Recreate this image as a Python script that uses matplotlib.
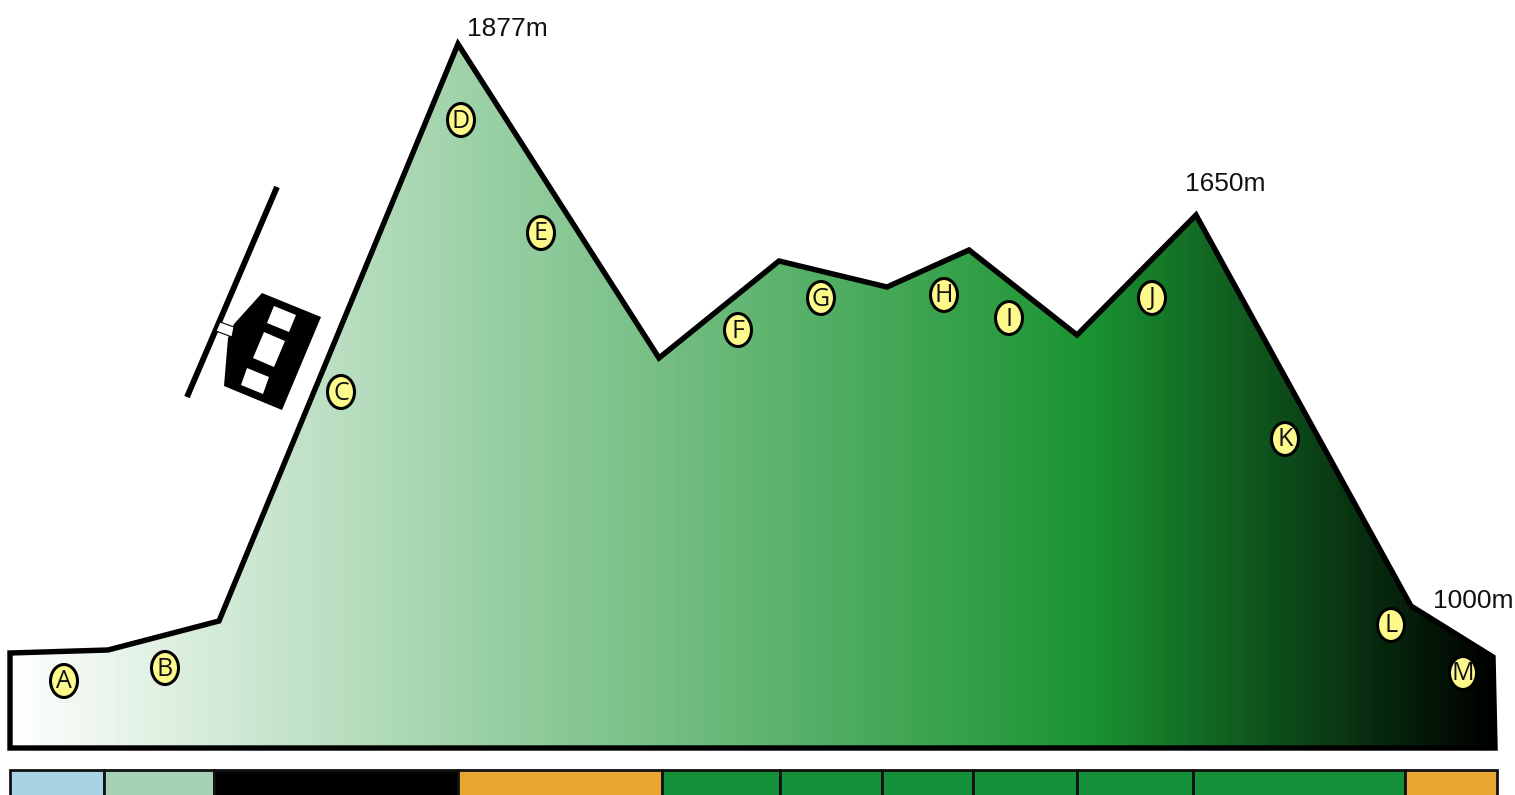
import matplotlib
matplotlib.use('Agg')
import matplotlib.pyplot as plt
from matplotlib.colors import LinearSegmentedColormap
from matplotlib.patches import Ellipse, Polygon, Rectangle
import numpy as np

# ridge profile in pixels
profile_x = [10, 108, 219, 458, 659, 779, 887, 969, 1077, 1196, 1411, 1493, 1495, 10]
profile_y = [653, 650, 621, 44, 358, 261, 287, 250, 335, 215, 606, 657, 748, 748]

peak_labels = ['1877m', '1650m', '1000m']
peak_label_x = [467, 1185, 1433]
peak_label_y = [36, 191, 608]

stop_letters = list('ABCDEFGHIJKLM')
stop_x = [64, 165, 341, 461, 541, 738, 821, 944, 1009, 1152, 1285, 1391, 1463]
stop_y = [681, 668, 392, 120, 233, 330, 298, 295, 318, 298, 439, 625, 673]

# bottom strip
strip_edges = [10, 104, 214, 458, 662, 780, 882, 973, 1077, 1193, 1405, 1497]
strip_colors = ['#a8d3e4', '#a7d1b4', '#000000', '#e8a630', '#14903a', '#14903a',
                '#14903a', '#14903a', '#14903a', '#14903a', '#e8a630']

# hut and road next to the ridge
road_x = [277, 187]
road_y = [187, 397]
hut_x = [262, 321, 282, 224, 228, 234]
hut_y = [293, 317, 410, 386, 338, 324]
window_x = [[274, 296, 289, 267], [264, 285, 274, 253], [247, 269, 263, 241]]
window_y = [[306, 315, 332, 323], [332, 341, 367, 358], [368, 377, 394, 385]]
bridge_x = [220, 234, 232, 216]
bridge_y = [322, 327, 337, 331]

fig = plt.figure(figsize=(15.15, 7.95), dpi=100)
ax = fig.add_axes([0, 0, 1, 1])
ax.set_xlim(0, 1515)
ax.set_ylim(795, 0)
ax.axis('off')

# gradient goes white -> green -> black across the profile
grad = LinearSegmentedColormap.from_list(
    'ridge', [(0, '#ffffff'), (1080 / 1485, '#1a9432'), (1, '#000000')])
img = ax.imshow(np.linspace(0, 1, 800).reshape(1, -1), cmap=grad, aspect='auto',
                extent=[10, 1495, 748, 44], zorder=1)
outline = Polygon(list(zip(profile_x, profile_y)), closed=True, fill=False,
                  edgecolor='black', linewidth=3.9, joinstyle='miter', zorder=3)
ax.add_patch(outline)
img.set_clip_path(Polygon(list(zip(profile_x, profile_y)), closed=True, transform=ax.transData))
ax.set_xlim(0, 1515)
ax.set_ylim(795, 0)

for label, x, y in zip(peak_labels, peak_label_x, peak_label_y):
    ax.text(x, y, label, family='Liberation Sans', fontsize=19, ha='left', va='baseline',
            color='#111111', zorder=5)

for letter, x, y in zip(stop_letters, stop_x, stop_y):
    ax.add_patch(Ellipse((x, y), 27, 33, facecolor='#fdf98a', edgecolor='black',
                         linewidth=2.2, zorder=4))
    ax.text(x, y + 1, letter, family='Open Sans', fontsize=18, ha='center', va='center',
            color='#111111', zorder=5)

for left, right, color in zip(strip_edges[:-1], strip_edges[1:], strip_colors):
    ax.add_patch(Rectangle((left, 770), right - left, 30, facecolor=color,
                           edgecolor='#111111', linewidth=2, zorder=2))

ax.plot(road_x, road_y, color='black', linewidth=4.2, solid_capstyle='butt', zorder=3)
ax.add_patch(Polygon(list(zip(hut_x, hut_y)), closed=True, facecolor='black', edgecolor='none', zorder=3))
for wx, wy in zip(window_x, window_y):
    ax.add_patch(Polygon(list(zip(wx, wy)), closed=True, facecolor='white', edgecolor='none', zorder=4))
ax.add_patch(Polygon(list(zip(bridge_x, bridge_y)), closed=True, facecolor='white',
                     edgecolor='black', linewidth=0.8, zorder=4))

fig.savefig('out.png', dpi=100)
